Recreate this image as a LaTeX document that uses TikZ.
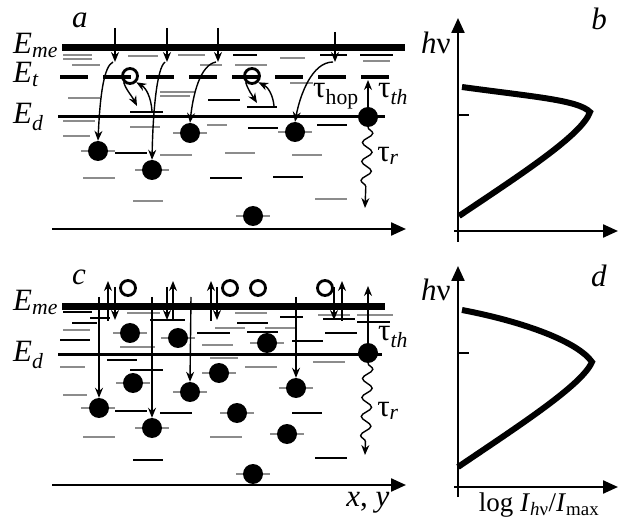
\documentclass[tikz,border=0pt]{standalone}
\usepackage{fontspec}
\setmainfont{Liberation Serif}
\usetikzlibrary{arrows.meta,decorations.pathmorphing}
\begin{document}
\begin{tikzpicture}[x=1pt,y=-1pt,
  lg/.style={draw=black!45,line width=1.7pt},
  lk/.style={draw=black,line width=1.3pt},
  elec/.style={circle,fill=black,minimum size=20pt,inner sep=0pt},
  hole/.style={circle,draw=black,line width=2.8pt,minimum size=15pt,inner sep=0pt},
  arr/.style={-{Stealth[length=10pt,width=8pt]},line width=1.4pt},
  axarr/.style={-{Triangle[length=15pt,width=13pt]},line width=2.3pt},
  lvlE/.style={line width=3pt},
  thickE/.style={line width=7pt},
  spec/.style={line width=6pt},
  lbl/.style={font=\fontsize{31}{35}\selectfont, inner sep=0pt},
  wave/.style={decorate,decoration={snake,amplitude=5pt,segment length=19pt,post length=12pt}},
]
\useasboundingbox (0,0) rectangle (624,521);

% ================= panel a =================
\foreach \xa/\xb/\y in {63/92/55,63/92/59,72/100/65,128/158/56,178/205/55,200/222/65,235/267/65,280/305/58,363/390/61,68/100/98,160/195/92,290/313/83,63/95/121,63/90/136,130/160/127,207/227/125,160/192/155,225/255/153,292/322/155,83/115/178,133/163/201,315/347/199,160/190/96}
  \draw[lg] (\xa,\y) -- (\xb,\y);
\foreach \xa/\xb/\y in {233/257/55,320/347/55,360/393/55,208/240/100,130/163/112,247/277/107,248/278/128,317/347/125,115/147/153,210/242/178,273/303/177}
  \draw[lk] (\xa,\y) -- (\xb,\y);

\draw[thickE] (62,48) -- (405,48);
\draw[line width=4pt, dash pattern=on 28pt off 15pt] (60,77) -- (392,77);
\draw[lvlE] (58,117) -- (385,117);

\foreach \x/\y in {98/151,152/170,190/133,295/132,253/216}
  \draw[lg] (\x-17,\y) -- (\x+17,\y);

\node[elec] (ea1) at (98,151) {};
\node[elec] (ea2) at (152,170) {};
\node[elec] (ea3) at (190,133) {};
\node[elec] (ea4) at (295,132) {};
\node[elec] (ea5) at (253,216) {};
\node[elec] (ea6) at (368,117) {};
\node[hole] (ha1) at (130,76) {};
\node[hole] (ha2) at (252,76) {};

% vertical capture arrows
\foreach \n/\x/\yt in {1/115/28,2/167/28,3/218/28,4/335/32}{
  \coordinate (ta\n) at (\x,\yt);
  \coordinate (ba\n) at (\x,62);
  \draw[arr] (ta\n) -- (ba\n);
}
\coordinate (ca1) at (113,62);
\coordinate (ca2) at (165,62);
\coordinate (ca3) at (216,62);
\coordinate (ca4) at (333,62);
\draw[arr] (ca1) .. controls (104,66) and (100,95) .. (ea1.north);
\draw[arr] (ca2) .. controls (157,68) and (153,110) .. (ea2.north);
\draw[arr] (ca3) .. controls (200,65) and (193,95) .. (ea3.north);
\draw[arr] (ca4) .. controls (312,62) and (300,95) .. (ea4.north);

% hopping arrows
\coordinate (hd1) at (137,106);
\coordinate (hu1) at (152,111);
\draw[arr] (ha1.south west) .. controls (126,90) and (132,96) .. (hd1);
\draw[arr] (hu1) .. controls (151,97) and (146,88) .. (ha1.south east);
\coordinate (hd2) at (257,103);
\coordinate (hu2) at (274,106);
\draw[arr] (ha2.south west) .. controls (248,90) and (252,95) .. (hd2);
\draw[arr] (hu2) .. controls (273,95) and (268,87) .. (ha2.south east);

% tau th / tau r
\coordinate (tha) at (368,80);
\draw[arr] (ea6.north) -- (tha);
\coordinate (ra) at (365,208);
\draw[arr,wave] (ea6.south) -- (ra);

\node[lbl] (thop) at (336,96) {τ\textsubscript{hop}};
\node[lbl] (ttha) at (393,94) {τ\textsubscript{\textit{th}}};
\node[lbl] (tra) at (388,156) {τ\textsubscript{\textit{r}}};

\coordinate (axa0) at (52,229);
\coordinate (axa1) at (406,229);
\draw[axarr] (axa0) -- (axa1);

\node[lbl,anchor=base west] (la) at (72,28) {\textit{a}};
\node[lbl,anchor=base west] (Emea) at (13,54) {\textit{E}\textsubscript{\textit{me}}};
\node[lbl,anchor=base west] (Eta) at (13,83) {\textit{E}\textsubscript{\textit{t}}};
\node[lbl,anchor=base west] (Eda) at (13,124) {\textit{E}\textsubscript{\textit{d}}};

% ================= panel b =================
\coordinate (bo) at (458,242);
\coordinate (bt) at (458,18);
\coordinate (bl) at (454,231);
\coordinate (br) at (618,231);
\draw[axarr] (bo) -- (bt);
\draw[axarr] (bl) -- (br);
\draw[line width=1.3pt] (458,115) -- (469,115);
\draw[spec] (462,87) .. controls (535,97) and (578,100) .. (590,112) .. controls (582,135) and (520,175) .. (459,216);
\node[lbl] (hnub) at (436,43) {\textit{h}ν};
\node[lbl] (lb) at (599,19) {\textit{b}};

% ================= panel c =================
\foreach \xa/\xb/\y in {63/90/330,60/85/367,127/160/313,120/155/347,235/267/313,215/245/328,202/233/345,265/297/328,318/350/315,357/393/315,210/238/358,245/277/367,313/345/362,63/87/395,83/115/437,210/242/437}
  \draw[lg] (\xa,\y) -- (\xb,\y);
\foreach \xa/\xb/\y in {63/92/312,72/97/323,60/90/340,90/110/318,107/137/360,130/163/370,150/185/320,237/268/323,197/230/333,247/278/332,280/303/317,292/323/341,323/355/319,357/390/322,325/357/333,115/147/411,160/192/413,133/163/460,292/322/413,315/347/458}
  \draw[lk] (\xa,\y) -- (\xb,\y);

\draw[thickE] (62,307) -- (385,307);
\draw[lvlE] (58,355) -- (382,355);

\foreach \x/\y in {130/333,178/338,267/343,133/383,219/373,190/392,296/388,98/408,152/428,237/413,287/434,253/474}
  \draw[lg] (\x-17,\y) -- (\x+17,\y);

\node[elec] (ec1) at (130,333) {};
\node[elec] (ec2) at (178,338) {};
\node[elec] (ec3) at (267,343) {};
\node[elec] (ec4) at (368,353) {};
\node[elec] (ec5) at (133,383) {};
\node[elec] (ec6) at (219,373) {};
\node[elec] (ec7) at (190,392) {};
\node[elec] (ec8) at (296,388) {};
\node[elec] (ec9) at (99,408) {};
\node[elec] (ec10) at (152,428) {};
\node[elec] (ec11) at (237,413) {};
\node[elec] (ec12) at (287,434) {};
\node[elec] (ec13) at (253,474) {};
\node[hole] (hc1) at (128,288) {};
\node[hole] (hc2) at (230,288) {};
\node[hole] (hc3) at (258,288) {};
\node[hole] (hc4) at (325,288) {};

% up/down pairs
\foreach \n/\xu/\xd in {1/108/115,2/173/167,3/211/217,4/342/334}{
  \coordinate (uc\n a) at (\xu,321);
  \coordinate (uc\n b) at (\xu,281);
  \coordinate (dc\n a) at (\xd,287);
  \coordinate (dc\n b) at (\xd,320);
  \draw[arr] (uc\n a) -- (uc\n b);
  \draw[arr] (dc\n a) -- (dc\n b);
}
% long vertical drops
\coordinate (lc1) at (99,297);
\coordinate (lc2) at (152,297);
\coordinate (lc3) at (191,297);
\coordinate (lc4) at (296,297);
\draw[arr] (lc1) -- (ec9.north);
\draw[arr] (lc2) -- (ec10.north);
\draw[arr] (lc3) -- (ec7.north);
\draw[arr] (lc4) -- (ec8.north);

\coordinate (thc) at (368,286);
\draw[arr] (ec4.north) -- (thc);
\coordinate (rc) at (365,455);
\draw[arr,wave] (ec4.south) -- (rc);
\node[lbl] (tthc) at (393,337) {τ\textsubscript{\textit{th}}};
\node[lbl] (trc) at (388,411) {τ\textsubscript{\textit{r}}};

\coordinate (axc0) at (52,485);
\coordinate (axc1) at (406,485);
\draw[axarr] (axc0) -- (axc1);
\node[lbl] (xy) at (368,503) {\textit{x}, \textit{y}};

\node[lbl,anchor=base west] (lc) at (72,285) {\textit{c}};
\node[lbl,anchor=base west] (Emec) at (13,311) {\textit{E}\textsubscript{\textit{me}}};
\node[lbl,anchor=base west] (Edc) at (13,362) {\textit{E}\textsubscript{\textit{d}}};

% ================= panel d =================
\coordinate (do) at (458,497);
\coordinate (dt) at (458,266);
\coordinate (dl) at (454,487);
\coordinate (dr) at (618,487);
\draw[axarr] (do) -- (dt);
\draw[axarr] (dl) -- (dr);
\draw[line width=1.3pt] (458,353) -- (469,353);
\draw[spec] (462,310) .. controls (525,322) and (578,342) .. (592,362) .. controls (582,385) and (520,425) .. (458,467);
\node[lbl] (hnud) at (436,290) {\textit{h}ν};
\node[lbl] (ld) at (599,276) {\textit{d}};
\node[lbl,font=\fontsize{27}{31}\selectfont] (logI) at (539,505) {log \textit{I}\textsubscript{\textit{h}ν}/\textit{I}\textsubscript{max}};
\end{tikzpicture}
\end{document}
